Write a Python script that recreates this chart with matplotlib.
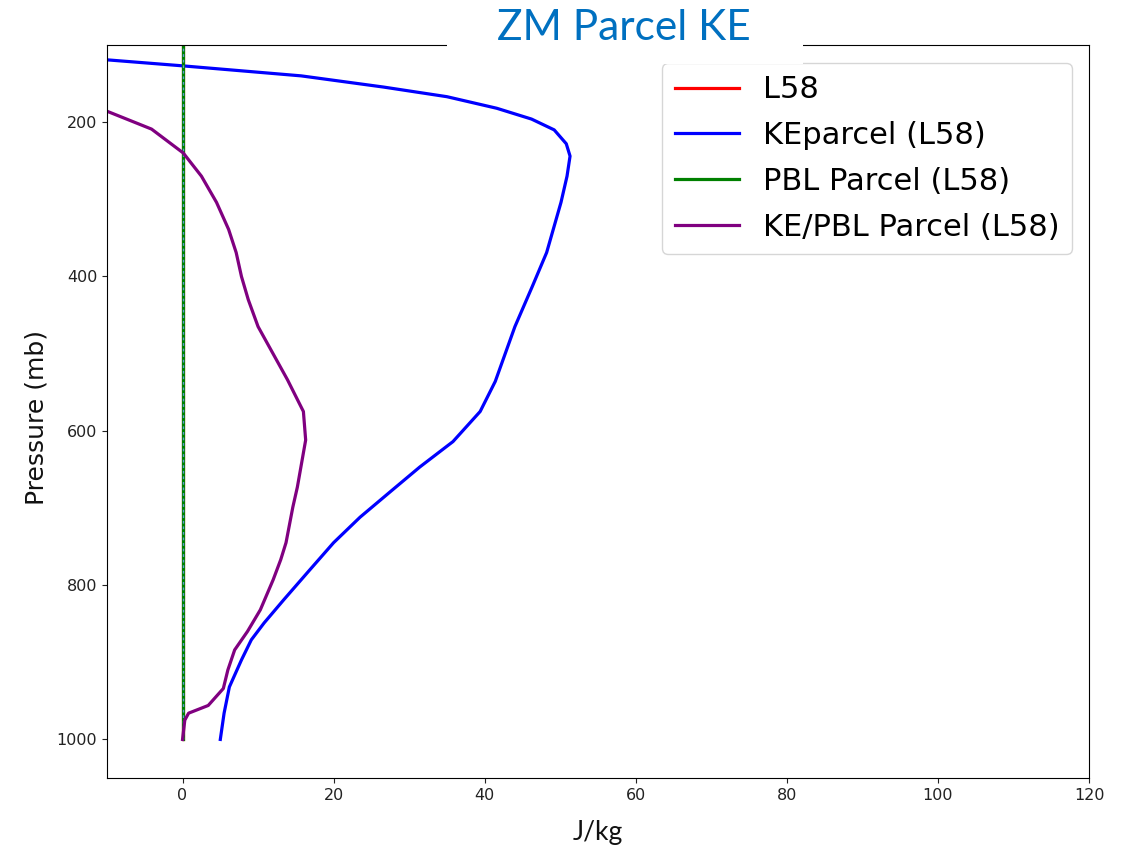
import matplotlib
matplotlib.use("Agg")
import matplotlib.pyplot as plt
from matplotlib.patches import Rectangle

# ---- data ----
p_l58 = [90, 1000]
l58 = [0, 0]

p_ke = [113, 127, 140, 154.5, 167, 182, 196, 210, 228, 244, 270, 304, 369, 413,
        465, 536, 575, 614, 647, 679, 712, 745, 783, 819, 849, 871, 897, 932,
        966, 1000]
ke_parcel = [-18, 0, 15.7, 26.6, 35.0, 41.6, 46.2, 49.2, 50.8, 51.3, 50.9, 50.1,
             48.2, 46.3, 44.0, 41.4, 39.4, 35.8, 31.4, 27.5, 23.5, 20.0, 16.6,
             13.4, 10.8, 9.1, 7.8, 6.2, 5.5, 5.0]

p_pbl = [90, 1000]
pbl_parcel = [0, 0]

p_kepbl = [178, 187, 209, 240, 270, 304, 339, 369, 400, 430, 465, 534, 575, 612,
           673, 699, 745, 767, 793, 832, 860, 884, 910, 934, 956, 966, 975, 1000]
kepbl_parcel = [-12, -9.7, -4.1, 0.1, 2.5, 4.5, 6.1, 7.1, 7.8, 8.7, 10.0, 13.9,
                16.0, 16.3, 15.2, 14.6, 13.7, 13.0, 12.0, 10.3, 8.6, 6.9, 6.0,
                5.4, 3.4, 0.8, 0.3, 0.0]

xticks = [0, 20, 40, 60, 80, 100, 120]
yticks = [200, 400, 600, 800, 1000]

# ---- figure ----
fig = plt.figure(figsize=(11.24, 8.46), dpi=100)
W, H = 1124, 846
ax = fig.add_axes([107 / W, 1 - 778 / H, (1089 - 107) / W, (778 - 45) / H])

lw = 2.3
ax.plot(l58, p_l58, color="red", lw=lw, label="L58")
ax.plot(ke_parcel, p_ke, color="blue", lw=lw, label="KEparcel (L58)")
ax.plot(pbl_parcel, p_pbl, color="green", lw=lw, label="PBL Parcel (L58)")
ax.plot(pbl_parcel, p_pbl, color="#5b9bd5", lw=1.0, ls=(0, (2.0, 2.0)))
ax.plot(kepbl_parcel, p_kepbl, color="purple", lw=lw, label="KE/PBL Parcel (L58)")

ax.set_xlim(-10, 120)
ax.set_ylim(1050, 100)
ax.set_xticks(xticks)
ax.set_yticks(yticks)
ax.tick_params(labelsize=11.5, colors="#222222")

leg = ax.legend(loc="upper right", bbox_to_anchor=(1 - 17 / 982, 1 - 18 / 733),
                borderaxespad=0, fontsize=22, labelspacing=0.55,
                handlelength=2.1, handletextpad=0.8, borderpad=0.4)

fig.text(37 / W, 1 - 417 / H, "Pressure (mb)", rotation=90, ha="center",
         va="center", fontsize=18, color="#111111")

# white box behind title (covers part of axes frame and legend)
fig.patches.append(Rectangle((447 / W, 1 - 64 / H), (803 - 447) / W, 64 / H,
                             transform=fig.transFigure, facecolor="white",
                             edgecolor="none", zorder=5))
fig.text(624 / W, 1 - 28 / H, "ZM Parcel KE", ha="center", va="center",
         fontsize=30.5, family="Lato", color="#0070C0", zorder=6)
fig.text(598 / W, 1 - 832 / H, "J/kg", ha="center", va="center",
         fontsize=19, family="Lato", color="#111111")

fig.savefig("out.png", dpi=100)
